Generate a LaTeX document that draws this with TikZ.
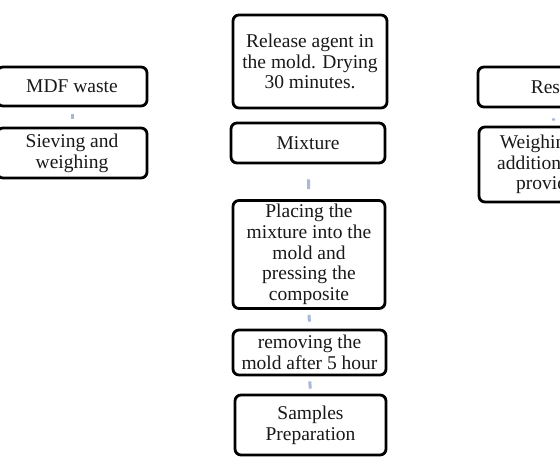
\documentclass[tikz,border=0pt]{standalone}
\usepackage{fontspec}
\setmainfont{Liberation Serif}
\definecolor{flowblue}{RGB}{168,184,214}
\begin{document}
\begin{tikzpicture}[x=1pt,y=-1pt,
  stepbox/.style={draw=black, line width=2.8pt, rounded corners=6pt, fill=white,
    align=center, inner sep=1pt, text=black!90,
    font=\fontsize{19.5}{20.7}\selectfont, minimum width=150pt},
  flow/.style={draw=flowblue, line width=3pt}]
\useasboundingbox (0,0) rectangle (560,471);
\clip (0,0) rectangle (560,471);
\fill[white] (0,0) rectangle (560,471);

% left column
\node[stepbox, minimum height=39pt] (mdf) at (72,86.5) {MDF waste};
\node[stepbox, minimum height=50pt] (sieve) at (72,153) {Sieving and\\weighing};

% middle column
\node[stepbox, minimum width=154pt, minimum height=93pt] (release) at (310,61.5) {Release agent in\\the mold. Drying\\30 minutes.};
\node[stepbox, minimum width=154pt, minimum height=40pt] (mix) at (308,143) {Mixture};
\node[stepbox, minimum width=152pt, minimum height=108pt] (place) at (309,254.5) {Placing the\\mixture into the\\mold and\\pressing the\\composite};
\node[stepbox, minimum width=153pt, minimum height=45pt] (remove) at (309.5,352.5) {removing the\\mold after 5 hour};
\node[stepbox, minimum width=151pt, minimum height=60pt] (samples) at (310.5,425) {Samples\\Preparation};

% right column
\node[stepbox, minimum height=40pt] (resin) at (553,87) {Resin};
\node[stepbox, minimum height=75pt] (weigh) at (554,164.5) {Weighing and\\addition of the\\providing};

% connectors
\draw[flow, shorten <=7pt, shorten >=8pt] (mdf.south) -- (sieve.north);
\draw[flow, shorten <=15pt, shorten >=10pt] (mix.south) -- (place.north);
\draw[flow, shorten <=5pt, shorten >=7pt] (place.south) -- (remove.north);
\draw[flow, shorten <=5pt, shorten >=5pt] (remove.south) -- (samples.north);
\draw[flow, shorten <=10pt, shorten >=5pt] (resin.south) -- (weigh.north);
\end{tikzpicture}
\end{document}
